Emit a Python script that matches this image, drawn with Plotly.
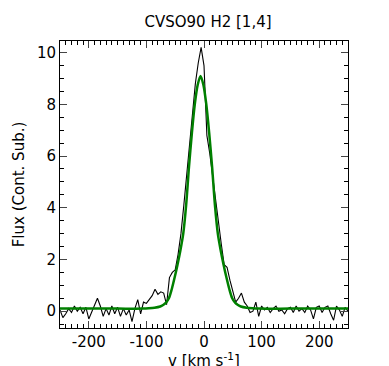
import plotly.graph_objects as go

# Observed spectrum (velocity in km/s, continuum-subtracted flux)
vel = [-250, -245, -240, -235, -230, -225, -220, -215, -210, -205,
       -200, -195, -190, -185, -180, -175, -170, -165, -160, -155,
       -150, -145, -140, -135, -130, -125, -120, -115, -110, -105,
       -100, -95, -90, -85, -80, -75, -70, -65, -60, -55,
       -50, -45, -40, -35, -30, -25, -20, -15, -10, -5,
       0, 5, 10, 15, 20, 25, 30, 35, 40, 45,
       50, 55, 60, 65, 70, 75, 80, 85, 90, 95,
       100, 105, 110, 115, 120, 125, 130, 135, 140, 145,
       150, 155, 160, 165, 170, 175, 180, 185, 190, 195,
       200, 205, 210, 215, 220, 225, 230, 235, 240, 245, 250]
flux = [0.05, -0.25, -0.1, 0.1, -0.05, 0.2, 0.0, 0.15, -0.1, 0.15,
        -0.3, -0.05, 0.25, 0.5, 0.2, -0.2, 0.1, -0.15, 0.2, -0.1,
        0.15, -0.2, 0.1, -0.15, 0.05, -0.4, 0.1, 0.45, -0.1, 0.35,
        0.3, 0.45, 0.6, 0.85, 0.65, 0.75, 0.7, 0.25, 1.3, 1.5,
        1.6, 2.2, 3.0, 4.1, 5.3, 6.5, 7.6, 8.8, 9.6, 10.2,
        9.5, 6.8, 6.1, 5.2, 4.2, 3.3, 2.6, 1.8, 1.7, 1.2,
        0.8, 0.35, 0.5, 0.7, 0.35, 0.2, -0.05, 0.0, 0.35, -0.2,
        0.2, 0.05, 0.15, -0.05, 0.1, 0.2, 0.0, 0.05, -0.1, 0.1,
        0.15, -0.05, 0.2, 0.0, 0.1, -0.05, 0.2, 0.05, -0.3, 0.15,
        0.2, -0.05, 0.15, 0.2, -0.1, -0.35, 0.2, 0.05, -0.2, 0.15, 0.0]

# Fitted line profile
fit_vel = [-250, -200, -150, -106, -96, -86, -76, -71, -66, -61, -56, -51,
           -46, -41, -36, -31, -26, -21, -16, -11, -6, -1, 4, 9, 14, 19,
           24, 29, 34, 39, 44, 49, 54, 59, 64, 74, 84, 94, 150, 200, 250]
fit_flux = [0.1, 0.1, 0.1, 0.1, 0.11, 0.13, 0.18, 0.24, 0.33, 0.5, 0.85, 1.3,
            1.8, 2.35, 3.0, 4.1, 5.6, 6.9, 8.0, 8.75, 9.1, 8.75, 8.0, 6.9, 5.6, 4.1,
            3.0, 2.35, 1.8, 1.3, 0.85, 0.5, 0.33, 0.24, 0.18, 0.13, 0.11, 0.1, 0.1, 0.1, 0.1]

x_tickvals = [-200, -100, 0, 100, 200]
x_ticktext = ["-200", "-100", "0", "100", "200"]
y_tickvals = [0, 2, 4, 6, 8, 10]
y_ticktext = ["0", "2", "4", "6", "8", "10"]

title_text = "CVSO90 H2 [1,4]"
x_title = "v [km s<sup>-1</sup>]"
y_title = "Flux (Cont. Sub.)"

fig = go.Figure()
fig.add_trace(go.Scatter(x=vel, y=flux, mode="lines",
                         line=dict(color="black", width=1.1), showlegend=False))
fig.add_trace(go.Scatter(x=fit_vel, y=fit_flux, mode="lines",
                         line=dict(color="green", width=2.5, shape="spline", smoothing=0.8),
                         showlegend=False))

font = dict(family="DejaVu Sans", size=15, color="black")
fig.update_layout(
    width=381, height=358,
    margin=dict(l=52, r=41, t=33, b=38),
    paper_bgcolor="white", plot_bgcolor="white",
    font=font,
    title=dict(text=title_text, x=0.525, xanchor="center", y=0.962, yanchor="middle",
               font=dict(family="DejaVu Sans", size=15)),
)
fig.add_annotation(text=x_title, xref="paper", yref="paper", x=0.5, y=0,
                   xanchor="center", yanchor="top", yshift=-20, showarrow=False,
                   font=font)
fig.update_xaxes(
    range=[-250, 250], tickvals=x_tickvals, ticktext=x_ticktext,
    ticks="inside", ticklen=7, tickwidth=1,
    showline=True, linecolor="black", linewidth=1, mirror="allticks",
    showgrid=False, zeroline=False,
    minor=dict(dtick=10, tick0=0, ticks="inside", ticklen=4, tickcolor="black", showgrid=False),
    automargin=False,
)
fig.update_yaxes(
    range=[-0.65, 10.45], tickvals=y_tickvals, ticktext=y_ticktext,
    ticks="inside", ticklen=7, tickwidth=1,
    showline=True, linecolor="black", linewidth=1, mirror="allticks",
    showgrid=False, zeroline=False,
    minor=dict(dtick=0.5, tick0=0, ticks="inside", ticklen=4, tickcolor="black", showgrid=False),
    title=dict(text=y_title, standoff=8, font=font),
    automargin=False,
)
fig.write_html("out.html")
